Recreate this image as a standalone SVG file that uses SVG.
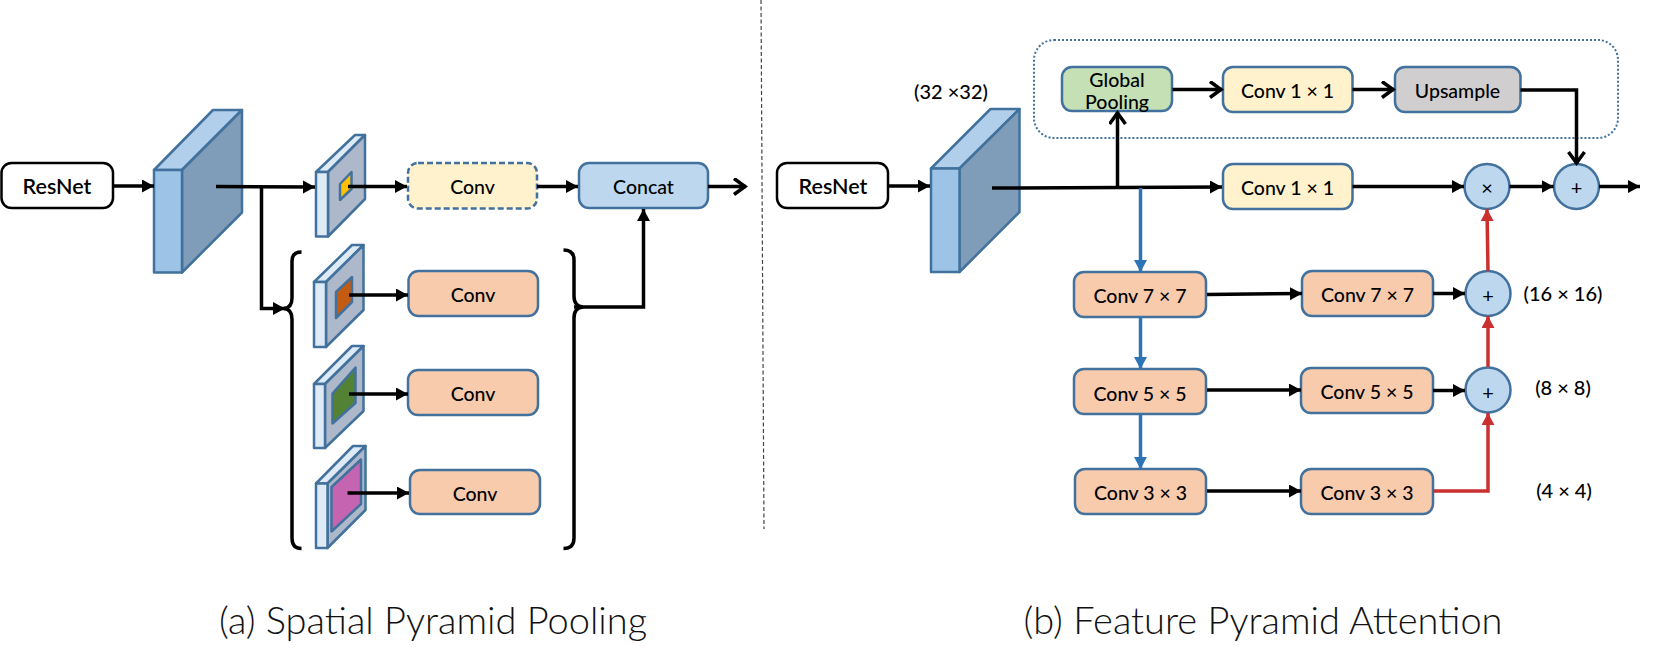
<svg xmlns="http://www.w3.org/2000/svg" width="1653" height="665" viewBox="0 0 1653 665">
<style>
text{font-family:"Lato","Noto Sans",sans-serif;text-anchor:middle;dominant-baseline:central;fill:#000}
.lb{font-size:19.5px;font-weight:500}
.res{font-size:21.500px;font-weight:600}
.dim{font-size:20px;font-weight:500}
.op{font-size:20px}
.title{font-size:38px;font-weight:300;fill:#111}
.box{stroke:#41719c;stroke-width:2.500}
.peach{fill:#f8cbad}.yellow{fill:#fff2cc}.blue{fill:#bdd7ee}.green{fill:#c5e0b4}.gray{fill:#d0cece}
.white{fill:#fff;stroke:#000;stroke-width:2.500}
.face{stroke:#41719c;stroke-width:2.500;stroke-linejoin:round}
.bf{fill:#9dc3e6}.bt{fill:#b1cfeb}.bs{fill:#7f9db9}
.sf{fill:#deebf7}.ss{fill:#adb9ca}
.k{fill:none;stroke:#000;stroke-width:3.500}
.kf{marker-end:url(#solid)}
.ko{marker-end:url(#open)}
.bl{fill:none;stroke:#2e75b6;stroke-width:3.500;marker-end:url(#solidB)}
.rd{fill:none;stroke:#c9302f;stroke-width:3.500}
.rf{marker-end:url(#solidR)}
</style>
<defs>
<marker id="solid" markerUnits="userSpaceOnUse" markerWidth="14" markerHeight="14" refX="12" refY="6.500" orient="auto"><path d="M0 0L12 6.500L0 13Z" fill="#000"/></marker>
<marker id="solidB" markerUnits="userSpaceOnUse" markerWidth="14" markerHeight="14" refX="12" refY="6.500" orient="auto"><path d="M0 0L12 6.500L0 13Z" fill="#2e75b6"/></marker>
<marker id="solidR" markerUnits="userSpaceOnUse" markerWidth="14" markerHeight="14" refX="12" refY="6.500" orient="auto"><path d="M0 0L12 6.500L0 13Z" fill="#c9302f"/></marker>
<marker id="open" markerUnits="userSpaceOnUse" markerWidth="18" markerHeight="20" refX="15" refY="9" orient="auto"><path d="M3 1L14 9L3 17" fill="none" stroke="#000" stroke-width="3.500"/></marker>
</defs>

<!-- divider between the two panels -->
<line x1="761" y1="0" x2="764" y2="529" stroke="#444" stroke-width="1.200" stroke-dasharray="4 2.500"/>

<!-- panel (a) -->
<g id="a-resnet"><rect class="white" x="1.500" y="163" width="111.500" height="45" rx="10"/><text class="res" x="57" y="186">ResNet</text></g>
<g id="a-feature">
<path class="face bt" d="M154 170L213 110H242L182 170Z"/>
<path class="face bs" d="M182 170L242 110V212.500L182 272.500Z"/>
<rect class="face bf" x="154" y="170" width="28" height="102.500"/>
</g>
<g id="a-pool1">
<path class="face sf" d="M316 172L355 135H365L328 172Z"/>
<path class="face ss" d="M328 172L365 135V199L328 236.500Z"/>
<rect class="face sf" x="316" y="172" width="12" height="64.500"/>
<path class="face" fill="#ffc000" d="M340 184L351.500 172V189L340 200Z"/>
</g>
<g id="a-pool2">
<path class="face sf" d="M314 282L352 245H363.500L326 282Z"/>
<path class="face ss" d="M326 282L363.500 245V310L326 347Z"/>
<rect class="face sf" x="314" y="282" width="12" height="65"/>
<path class="face" fill="#c55a11" d="M336 292L352 277V302L336 318Z"/>
</g>
<g id="a-pool3">
<path class="face sf" d="M314 384L352 346H363.500L325 384Z"/>
<path class="face ss" d="M325 384L363.500 346V411L325 448Z"/>
<rect class="face sf" x="314" y="384" width="11" height="64"/>
<path class="face" fill="#548235" d="M332.500 393.500L355.500 367.500V403L332.500 423.500Z"/>
</g>
<g id="a-pool4">
<path class="face sf" d="M316 483.500L353 446H365.500L327.500 483.500Z"/>
<path class="face ss" d="M327.500 483.500L365.500 446V510L327.500 548Z"/>
<rect class="face sf" x="316" y="483.500" width="11.500" height="64.500"/>
<path class="face" fill="#c565b2" d="M331.500 487L361 459.500V504L331.500 531.500Z"/>
</g>
<g id="a-conv1"><rect class="box yellow" x="408" y="163" width="129" height="45.500" rx="10" stroke-dasharray="6 3"/><text class="lb" x="472.500" y="186">Conv</text></g>
<g id="a-concat"><rect class="box blue" x="579" y="163" width="129" height="45" rx="10"/><text class="lb" x="643.500" y="186">Concat</text></g>
<g id="a-conv2"><rect class="box peach" x="408.500" y="271" width="129.500" height="45" rx="10"/><text class="lb" x="473" y="294">Conv</text></g>
<g id="a-conv3"><rect class="box peach" x="408" y="370" width="130" height="45" rx="10"/><text class="lb" x="473" y="393.500">Conv</text></g>
<g id="a-conv4"><rect class="box peach" x="410" y="470" width="130" height="44" rx="10"/><text class="lb" x="475" y="493">Conv</text></g>
<g id="a-brace-left"><path d="M301.500 252C295 252 292 255 292 261V298C292 305 289 308 284 308.500C289 309 292 312 292 319V538C292 545 295 548.500 301.500 548.500" fill="none" stroke="#000" stroke-width="3.500"/></g>
<g id="a-brace-right"><path d="M563.500 250C570 250 574 253 574 260V296C574 303 577 306.500 583 307C577 307.500 574 311 574 318V538C574 545 570 548.500 563.500 548.500" fill="none" stroke="#000" stroke-width="3.500"/></g>

<!-- panel (b) -->
<g id="b-scale-box"><rect x="1034" y="40" width="584" height="98" rx="20" fill="none" stroke="#41719c" stroke-width="2" stroke-dasharray="2 2"/></g>
<g id="b-resnet"><rect class="white" x="777" y="163" width="111" height="45" rx="10"/><text class="res" x="833" y="186">ResNet</text></g>
<g id="b-feature">
<path class="face bt" d="M931 168.500L990.500 109H1019.500L959.500 168.500Z"/>
<path class="face bs" d="M959.500 168.500L1019.500 109V212L959.500 272Z"/>
<rect class="face bf" x="931" y="168.500" width="28.500" height="103.500"/>
</g>
<g id="b-global"><rect class="box green" x="1062" y="67" width="110" height="44" rx="10"/><text class="lb" x="1117" y="79">Global</text><text class="lb" x="1117" y="101">Pooling</text></g>
<g id="b-conv1a"><rect class="box yellow" x="1223" y="67" width="129.500" height="45" rx="10"/><text class="lb" x="1287.500" y="90">Conv 1 × 1</text></g>
<g id="b-upsample"><rect class="box gray" x="1395" y="67" width="125.500" height="45" rx="10"/><text class="lb" x="1457.500" y="90">Upsample</text></g>
<g id="b-conv1b"><rect class="box yellow" x="1223" y="164" width="129.500" height="45" rx="10"/><text class="lb" x="1287.500" y="187">Conv 1 × 1</text></g>
<g id="b-conv7a"><rect class="box peach" x="1074" y="272" width="132" height="45" rx="10"/><text class="lb" x="1140" y="295">Conv 7 × 7</text></g>
<g id="b-conv5a"><rect class="box peach" x="1074" y="369" width="132" height="45" rx="10"/><text class="lb" x="1140" y="393">Conv 5 × 5</text></g>
<g id="b-conv3a"><rect class="box peach" x="1075" y="469" width="131" height="45" rx="10"/><text class="lb" x="1140.500" y="492">Conv 3 × 3</text></g>
<g id="b-conv7b"><rect class="box peach" x="1302" y="271" width="131" height="45" rx="10"/><text class="lb" x="1367.500" y="294">Conv 7 × 7</text></g>
<g id="b-conv5b"><rect class="box peach" x="1301" y="368" width="132" height="45" rx="10"/><text class="lb" x="1367" y="391">Conv 5 × 5</text></g>
<g id="b-conv3b"><rect class="box peach" x="1301" y="469" width="132" height="45" rx="10"/><text class="lb" x="1367" y="492">Conv 3 × 3</text></g>
<g id="b-mul"><circle class="box blue" cx="1487" cy="186.500" r="22.500"/><text class="op" x="1487" y="187">×</text></g>
<g id="b-add-top"><circle class="box blue" cx="1576.500" cy="186.500" r="22.500"/><text class="op" x="1576.500" y="187">+</text></g>
<g id="b-add7"><circle class="box blue" cx="1488" cy="293.500" r="22.500"/><text class="op" x="1488" y="295">+</text></g>
<g id="b-add5"><circle class="box blue" cx="1488" cy="390" r="22.500"/><text class="op" x="1488" y="392">+</text></g>
<text class="dim" x="951" y="91">(32 ×32)</text>
<text class="dim" x="1563" y="293">(16 × 16)</text>
<text class="dim" x="1563" y="387">(8 × 8)</text>
<text class="dim" x="1564" y="490">(4 × 4)</text>

<g id="connectors">
<path class="k kf" d="M113 186H154"/>
<path class="k kf" d="M216 186.500L315 187"/>
<path class="k kf" d="M261.500 187V308.500H285"/>
<path class="k kf" d="M348 186.500H407"/>
<path class="k kf" d="M349 295H408"/>
<path class="k kf" d="M349 394H408"/>
<path class="k kf" d="M347.500 493H409"/>
<path class="k kf" d="M537 186.500H578"/>
<path class="k ko" d="M708 186.500H746"/>
<path class="k kf" d="M574 307H643.500V209"/>
<path class="k kf" d="M888 186H930"/>
<path class="k kf" d="M992 188L1222 187"/>
<path class="k ko" d="M1117.500 187V112"/>
<path class="k ko" d="M1172.500 89.500H1222"/>
<path class="k ko" d="M1352.500 89.500H1394"/>
<path class="k ko" d="M1520.500 90H1576.500V164"/>
<path class="k kf" d="M1352.500 186.500H1464"/>
<path class="k kf" d="M1509.500 186.500H1553.500"/>
<path class="k kf" d="M1599 186.500H1640"/>
<path class="bl" d="M1140.500 188V272"/>
<path class="bl" d="M1140.500 317V369"/>
<path class="bl" d="M1140.500 414V469"/>
<path class="k kf" d="M1207 294.500L1302 293.500"/>
<path class="k kf" d="M1207 390H1301"/>
<path class="k kf" d="M1207 491H1301"/>
<path class="k kf" d="M1433 293.500H1465"/>
<path class="k kf" d="M1433 390.500H1465"/>
<path class="rd rf" d="M1433 491H1488V413"/>
<path class="rd rf" d="M1488 367V316"/>
<path class="rd rf" d="M1488 271L1487 209"/>
</g>

<text class="title" x="433" y="619">(a) Spatial Pyramid Pooling</text>
<text class="title" x="1263" y="619">(b) Feature Pyramid Attention</text>
</svg>
